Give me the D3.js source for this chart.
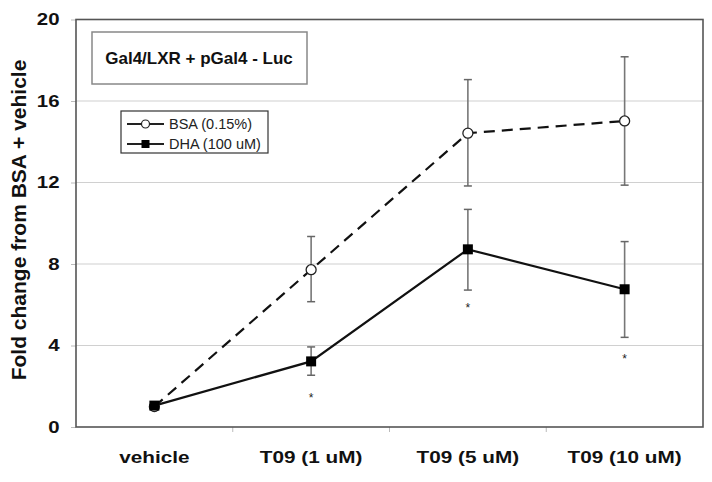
<!DOCTYPE html>
<html><head><meta charset="utf-8">
<script src="https://cdn.jsdelivr.net/npm/d3@7"></script>
<style>body{margin:0;background:#fff}svg{display:block}</style>
</head><body>
<svg id="c" width="712" height="482"></svg>
<script>
const categories = ["vehicle", "T09 (1 uM)", "T09 (5 uM)", "T09 (10 uM)"];
const bsaValues = [1.0, 7.72, 14.42, 15.02];
const bsaUpper  = [1.0, 9.35, 17.05, 18.17];
const bsaLower  = [1.0, 6.15, 11.83, 11.87];
const dhaValues = [1.05, 3.22, 8.72, 6.76];
const dhaUpper  = [1.05, 3.93, 10.68, 9.1];
const dhaLower  = [1.05, 2.54, 6.72, 4.4];
const starLevels = [null, 1.55, 6.0, 3.5];
const yTicks = [0, 4, 8, 12, 16, 20];
const seriesNames = ["BSA (0.15%)", "DHA (100 uM)"];
const titleText = "Gal4/LXR + pGal4 - Luc";
const yLabel = "Fold change from BSA + vehicle";

const svg = d3.select("#c");
const m = {l:76, r:703, t:19.5, b:427};
const x = d3.scaleBand().domain(categories).range([m.l, m.r]);
const y = d3.scaleLinear().domain([0, 20]).range([m.b, m.t]);
const cx = c => x(c) + x.bandwidth()/2;
const font = "Arial, 'Liberation Sans', sans-serif";

// gridlines
svg.append("g").selectAll("line").data(yTicks.filter(t => t>0 && t<20)).join("line")
  .attr("x1", m.l).attr("x2", m.r).attr("y1", d=>y(d)).attr("y2", d=>y(d))
  .attr("stroke", "#d0d0d0").attr("stroke-width", 1.2);

// y axis
const ya = svg.append("g").attr("transform", `translate(${m.l},0)`)
  .call(d3.axisLeft(y).tickValues(yTicks).tickSize(5));
ya.select(".domain").remove();
ya.selectAll("line").attr("stroke", "#bbb");
ya.selectAll("text").attr("x", 0).attr("transform", "translate(-16.5,0) scale(1.2,1)")
  .attr("font-family", font).attr("font-weight", "bold")
  .attr("font-size", 17).attr("fill", "#111");

// x axis
const xa = svg.append("g").attr("transform", `translate(0,${m.b})`)
  .call(d3.axisBottom(x).tickSize(0).tickPadding(24));
xa.select(".domain").remove();
xa.selectAll("text").attr("transform", "scale(1.22,1)")
  .attr("font-family", font).attr("font-weight", "bold")
  .attr("font-size", 17).attr("fill", "#111");
// boundary ticks
svg.append("g").selectAll("line").data(categories.slice(1)).join("line")
  .attr("x1", d=>x(d)).attr("x2", d=>x(d)).attr("y1", m.b).attr("y2", m.b+5)
  .attr("stroke", "#bbb");

// plot border
svg.append("rect").attr("x", m.l).attr("y", m.t).attr("width", m.r-m.l).attr("height", m.b-m.t)
  .attr("fill", "none").attr("stroke", "#555").attr("stroke-width", 1.6);

// y label
svg.append("text").attr("transform", `translate(25.5,220) rotate(-90)`)
  .attr("text-anchor", "middle").attr("font-family", font).attr("font-weight", "bold")
  .attr("font-size", 21).attr("fill", "#111").text(yLabel);

// error bars
function errBars(up, lo) {
  const g = svg.append("g");
  categories.forEach((c, i) => {
    if (up[i] === lo[i]) return;
    const xx = cx(c);
    g.append("line").attr("x1", xx).attr("x2", xx).attr("y1", y(up[i])).attr("y2", y(lo[i]))
      .attr("stroke", "#777").attr("stroke-width", 1.6);
    [up[i], lo[i]].forEach(v => g.append("line").attr("x1", xx-4).attr("x2", xx+4)
      .attr("y1", y(v)).attr("y2", y(v)).attr("stroke", "#666").attr("stroke-width", 1.5));
  });
}
errBars(bsaUpper, bsaLower);
errBars(dhaUpper, dhaLower);

const line = d3.line().x((d,i)=>cx(categories[i])).y(d=>y(d));
svg.append("path").datum(bsaValues).attr("d", line).attr("fill", "none")
  .attr("stroke", "#111").attr("stroke-width", 2.2).attr("stroke-dasharray", "11,7");
svg.append("path").datum(dhaValues).attr("d", line).attr("fill", "none")
  .attr("stroke", "#111").attr("stroke-width", 2.2);

svg.append("g").selectAll("circle").data(bsaValues).join("circle")
  .attr("cx", (d,i)=>cx(categories[i])).attr("cy", d=>y(d)).attr("r", 5)
  .attr("fill", "#fff").attr("stroke", "#222").attr("stroke-width", 1.3);
svg.append("g").selectAll("rect").data(dhaValues).join("rect")
  .attr("x", (d,i)=>cx(categories[i])-5).attr("y", d=>y(d)-5).attr("width", 10).attr("height", 10)
  .attr("fill", "#000");

// stars
svg.append("g").selectAll("text").data(categories.filter((c,i)=>starLevels[i] !== null)).join("text")
  .attr("x", d=>cx(d)).attr("y", d=>y(starLevels[categories.indexOf(d)]) + 7)
  .attr("text-anchor", "middle").attr("font-family", font).attr("font-size", 12).attr("fill", "#222")
  .text("*");

// title box
svg.append("rect").attr("x", 92).attr("y", 32).attr("width", 215).attr("height", 52)
  .attr("fill", "#fff").attr("stroke", "#888").attr("stroke-width", 1.5);
svg.append("text").attr("x", 199).attr("y", 64).attr("text-anchor", "middle")
  .attr("font-family", font).attr("font-weight", "bold").attr("font-size", 17).attr("fill", "#111")
  .text(titleText);

// legend
svg.append("rect").attr("x", 121).attr("y", 111).attr("width", 147).attr("height", 42)
  .attr("fill", "#fff").attr("stroke", "#333").attr("stroke-width", 1.2);
const leg = [{n: seriesNames[0], t:"c"}, {n: seriesNames[1], t:"s"}];
leg.forEach((d, i) => {
  const ly = 124 + i*20;
  svg.append("line").attr("x1", 127).attr("x2", 164).attr("y1", ly).attr("y2", ly)
    .attr("stroke", "#222").attr("stroke-width", 1.8);
  if (d.t === "c") svg.append("circle").attr("cx", 145.5).attr("cy", ly).attr("r", 4)
    .attr("fill", "#fff").attr("stroke", "#222").attr("stroke-width", 1.2);
  else svg.append("rect").attr("x", 141.5).attr("y", ly-4).attr("width", 8).attr("height", 8).attr("fill", "#000");
  svg.append("text").attr("x", 169).attr("y", ly+5).attr("font-family", font)
    .attr("font-size", 14.5).attr("fill", "#222").text(d.n);
});
</script>
</body></html>
